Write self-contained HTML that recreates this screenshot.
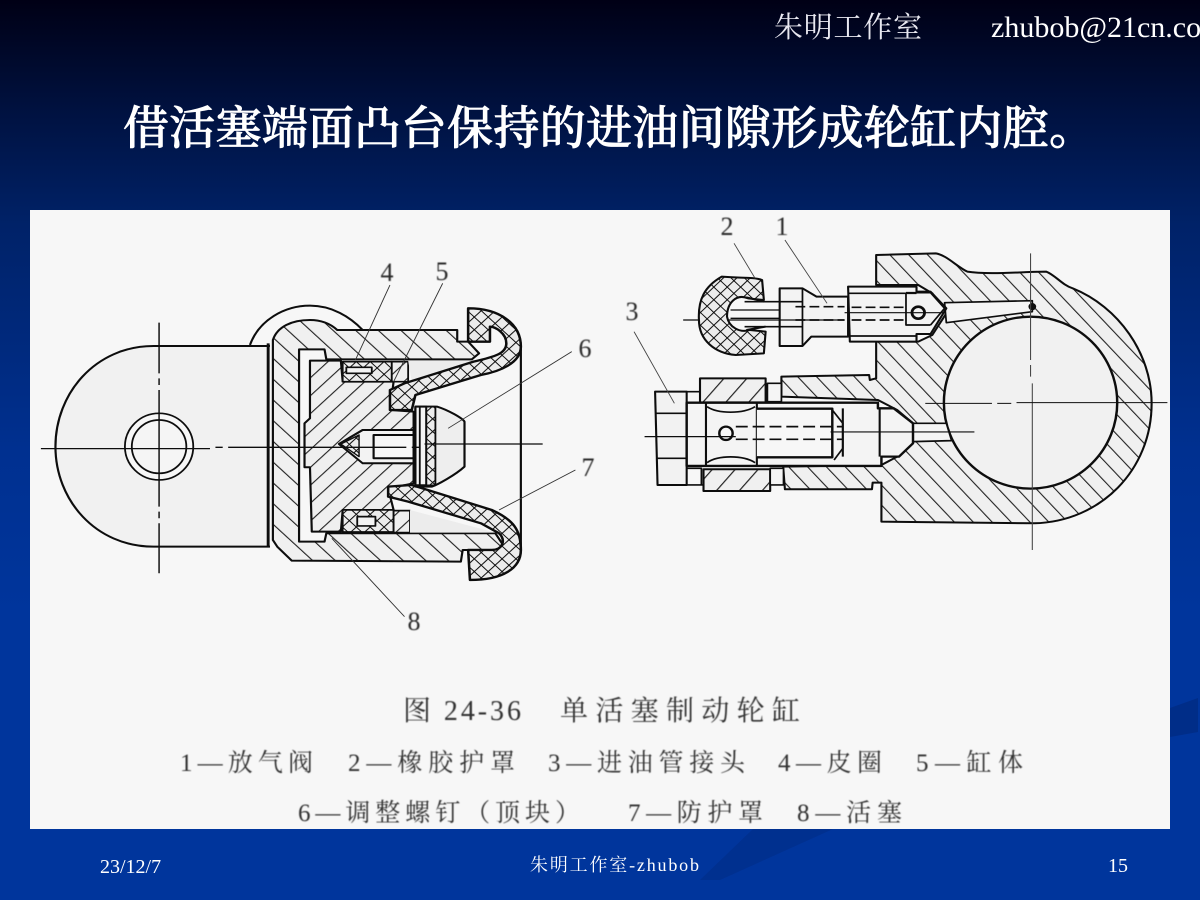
<!DOCTYPE html>
<html lang="zh"><head><meta charset="utf-8"><title>单活塞制动轮缸</title>
<style>
html,body{margin:0;padding:0;background:#039}
body{width:1200px;height:900px;overflow:hidden;position:relative}
svg{position:absolute;left:0;top:0;display:block}
</style></head><body>
<svg width="1200" height="900" viewBox="0 0 1200 900" xmlns="http://www.w3.org/2000/svg">
<defs>
<linearGradient id="bg" x1="0" y1="0" x2="0" y2="1">
<stop offset="0" stop-color="#000015"/><stop offset=".12" stop-color="#00113f"/><stop offset=".25" stop-color="#002268"/><stop offset=".5" stop-color="#003090"/><stop offset=".68" stop-color="#00359c"/><stop offset="1" stop-color="#00359c"/>
</linearGradient>
<pattern id="hb" width="44" height="44" patternUnits="userSpaceOnUse" patternTransform="rotate(-45)"><rect width="44" height="44" fill="#f0f0f0"/><rect x="0" width="3.2" height="44" fill="#222"/></pattern>
<pattern id="hf" width="38" height="38" patternUnits="userSpaceOnUse" patternTransform="rotate(45)"><rect width="38" height="38" fill="#efefef"/><rect x="0" width="3.2" height="38" fill="#222"/></pattern>
<pattern id="hr" width="40" height="40" patternUnits="userSpaceOnUse" patternTransform="rotate(-42)"><rect width="40" height="40" fill="#f0f0f0"/><rect x="0" width="3.2" height="40" fill="#222"/></pattern>
<pattern id="hn" width="50" height="50" patternUnits="userSpaceOnUse" patternTransform="rotate(40)"><rect width="50" height="50" fill="#f0f0f0"/><rect x="0" width="3.5" height="50" fill="#222"/></pattern>
<pattern id="xh" width="27" height="27" patternUnits="userSpaceOnUse" patternTransform="rotate(45)"><rect width="27" height="27" fill="#ececec"/><path d="M0 0H27M0 0V27" stroke="#111" stroke-width="6"/></pattern>
<filter id="soft" x="-5%" y="-5%" width="110%" height="110%"><feGaussianBlur stdDeviation=".45"/></filter>
</defs>
<rect width="1200" height="900" fill="url(#bg)"/>
<polygon points="753,829 833,829 720,880 700,880" fill="#00308f"/>
<polygon points="1170,708 1198,698 1198,732 1170,737" fill="#002d88"/>
<rect x="30" y="210" width="1140" height="619" fill="#f7f7f7"/>

<!-- LEFT -->
<g transform="translate(30,240) scale(.3636,.3333)" fill="none" stroke="#111" stroke-width="5" stroke-linejoin="round" filter="url(#soft)">
<path d="M660,318 L340,318 C180,318 70,460 70,620 C70,780 180,920 340,920 L660,920" fill="#f1f1f1" stroke-width="6"/>
<ellipse cx="355" cy="620" rx="94" ry="100" fill="#f7f7f7"/><ellipse cx="355" cy="620" rx="75" ry="80" fill="#f5f5f5"/>
<path d="M605,315 C630,240 700,197 770,197 C830,197 880,230 915,270" stroke-width="6"/>
<path d="M655,310 V920" stroke-width="8"/>
<path d="M668,300 C680,260 720,240 770,240 C800,240 825,250 845,270 L1175,270 L1175,305 L1205,305 L1235,340 L1215,358 L815,358 L810,328 L740,328 L740,905 L810,905 L815,880 L1280,880 L1310,930 L1190,930 L1185,965 L720,962 L680,920 L668,900 Z" fill="url(#hb)" stroke-width="6"/>
<path d="M770,362 L855,362 L860,425 L1000,425 L990,510 L1055,515 L1055,570 L915,570 L850,612 L915,668 L1055,670 L1055,730 L985,745 L1000,810 L860,810 L855,875 L775,875 L770,682 L755,682 L755,550 L770,535 Z" fill="url(#hf)" stroke-width="6"/>
<rect x="860" y="365" width="135" height="60" fill="url(#xh)"/>
<rect x="870" y="382" width="70" height="18" fill="#f3f3f3"/>
<rect x="860" y="810" width="140" height="66" fill="url(#xh)"/>
<rect x="900" y="830" width="50" height="28" fill="#f3f3f3"/>
<rect x="995" y="365" width="45" height="60" fill="url(#hf)"/>
<rect x="1000" y="812" width="45" height="66" fill="url(#hf)"/>
<path d="M1040,362 H1215 L1050,425 Z" fill="#ececec" stroke="none"/>
<path d="M1045,810 L1280,878 H1045 Z" fill="#ececec" stroke="none"/>
<path d="M1205,205 C1290,205 1350,250 1350,320 C1350,370 1290,395 1240,405 L1060,465 L1050,510 L990,510 L990,450 L1030,430 L1220,365 C1280,350 1310,340 1310,310 C1310,280 1280,260 1265,260 L1265,305 L1205,305 Z" fill="url(#xh)" stroke-width="7"/>
<path d="M985,740 L1050,735 L1270,810 C1330,840 1350,870 1350,930 C1350,985 1300,1020 1210,1020 L1205,930 L1270,930 C1300,930 1310,900 1290,880 L1240,850 L1040,785 L985,770 Z" fill="url(#xh)" stroke-width="7"/>
<path d="M1350,320 V930" stroke-width="6"/>
<path d="M1060,500 H1120 C1150,510 1190,535 1195,545 V680 C1170,705 1120,735 1105,740 H1060 Z" fill="#eee" stroke-width="6"/>
<rect x="1060" y="500" width="30" height="236" fill="#f4f4f4" stroke-width="6"/>
<rect x="1090" y="500" width="25" height="236" fill="url(#xh)" stroke-width="5"/>
<path d="M1072,500 V736" stroke-width="5"/>
<path d="M915,570 H1055 V670 H915 L850,612 Z" fill="#f3f3f3" stroke-width="6"/>
<rect x="945" y="585" width="110" height="70" fill="#f7f7f7" stroke-width="6"/>
<path d="M855,612 L905,585 V650 Z" fill="url(#xh)" stroke-width="4"/>
<path d="M30,626 H495 M510,622 H530 M545,622 H1035 M1050,622 H1070 M1085,612 H1410" stroke-width="4"/>
<path d="M355,248 V400 M355,415 V435 M355,450 V800 M355,815 V835 M355,850 V1000" stroke-width="4"/>
<path d="M990,135 L895,360 M1135,130 L1000,425 M1490,335 L1150,565 M1500,690 L1290,810 M1030,1130 L830,895" stroke-width="2.6" stroke="#333"/>
</g>

<!-- RIGHT -->
<g transform="translate(620,210) scale(.3509,.3333)" fill="none" stroke="#111" stroke-width="6" stroke-linejoin="round" filter="url(#soft)">
<path d="M730,135 L900,130 C930,135 960,170 990,185 C1050,195 1150,185 1215,185 C1240,195 1260,225 1290,235 C1420,290 1515,430 1515,580 C1515,780 1370,935 1180,940 L745,935 L745,818 L720,818 L718,838 L470,838 L465,770 L745,765 L790,740 L835,700 L835,640 L790,600 L735,570 L460,560 L460,500 L710,495 L712,510 L730,505 L730,395 L850,395 L890,375 L930,310 L890,250 L850,225 L730,225 Z" fill="url(#hr)"/>
<ellipse cx="1170" cy="578" rx="247" ry="258" fill="#f1f1f1" stroke-width="7"/>
<path d="M925,278 L1175,272 L1175,305 L930,338 Z" fill="#f5f5f5" stroke-width="5"/>
<path d="M835,640 L930,640 L945,692 L835,695 Z" fill="#f5f5f5" stroke-width="5"/>
<circle cx="1175" cy="290" r="11" fill="#111" stroke="none"/>
<!-- bleed screw -->
<path d="M650,230 H845 V245 H885 L930,295 L885,372 H845 V395 H655 Z" fill="#f3f3f3"/>
<path d="M650,250 H845 M650,378 H845 M815,248 V345 H885 M815,248 H885 L925,295 L885,345" stroke-width="5"/>
<circle cx="850" cy="308" r="18" fill="#f3f3f3" stroke-width="8"/>
<path d="M650,260 H560 L520,235 H455 V408 H520 L545,380 H650 Z" fill="#f3f3f3"/>
<path d="M520,235 V408 M455,275 H520 M455,350 H520" stroke-width="5"/>
<path d="M355,275 H455 M355,350 H455" stroke-width="5"/>
<path d="M315,300 H455 M315,325 H455" stroke-width="4"/>
<path d="M500,290 H640 M500,330 H640 M660,292 H820 M660,330 H820" stroke-width="5" stroke-dasharray="28 12"/>
<path d="M180,330 H640 M640,308 H925" stroke-width="3.5"/>
<!-- cap -->
<path d="M290,200 C240,230 222,270 225,330 C225,390 270,430 330,435 L410,430 L415,365 L370,360 C340,370 310,350 305,320 C305,280 330,250 365,265 L410,270 L405,210 C380,200 340,205 290,200 Z" fill="url(#xh)" stroke-width="6"/>
<path d="M360,262 L410,275 M360,360 L415,350" stroke-width="6"/>
<!-- inlet fitting -->
<rect x="228" y="505" width="187" height="72" fill="url(#hn)"/>
<rect x="238" y="778" width="190" height="65" fill="url(#hn)"/>
<rect x="420" y="520" width="40" height="55" fill="#f5f5f5" stroke-width="5"/>
<rect x="428" y="775" width="38" height="50" fill="#f5f5f5" stroke-width="5"/>
<path d="M100,545 H190 V825 H107 Z" fill="#f2f2f2"/>
<path d="M100,610 H190 M104,745 H190" stroke-width="5"/>
<path d="M190,545 H228 M190,825 H238 M190,775 H232 V825" stroke-width="5"/>
<path d="M190,578 H735 V595 H780 L835,640 V700 L795,740 H745 V768 H190 Z" fill="#f4f4f4" stroke-width="7"/>
<path d="M245,578 V768 M390,578 V768 M635,595 V740 M740,595 V740" stroke-width="6"/>
<path d="M390,596 H605 V742 H390" fill="#f7f7f7" stroke-width="7"/>
<path d="M248,590 C280,612 350,612 385,590 M248,758 C280,735 350,735 385,758" stroke-width="5"/>
<ellipse cx="302" cy="670" rx="19" ry="20" fill="#f7f7f7" stroke-width="7"/>
<path d="M330,650 H635 M330,688 H635" stroke-width="5" stroke-dasharray="34 14"/>
<path d="M70,680 H330 M600,666 H1010" stroke-width="3.5"/>
<path d="M605,600 L635,640 V715 L610,750" stroke-width="5"/>
<path d="M1170,130 V450 M1170,465 V500 M1175,520 V1020" stroke-width="3" stroke="#444"/>
<path d="M870,580 H1060 M1075,580 H1115 M1130,578 H1560" stroke-width="3"/>
<path d="M325,100 L385,205 M470,90 L590,280 M40,365 L155,580" stroke-width="2.6" stroke="#444"/>
</g>

<g font-family="'Liberation Serif',serif" font-size="26" fill="#2a2a2a" text-anchor="middle" filter="url(#soft)">
<text x="387" y="281">4</text><text x="442" y="280">5</text><text x="585" y="357">6</text><text x="588" y="476">7</text><text x="414" y="630">8</text>
<text x="727" y="235">2</text><text x="782" y="235">1</text><text x="632" y="320">3</text>
</g>

<g font-family="'Liberation Serif','Noto Serif CJK SC',serif" fill="#333" filter="url(#soft)">
<text x="403" y="720" font-size="28" textLength="118" lengthAdjust="spacing">图 24-36</text>
<text x="560" y="720" font-size="28" textLength="240" lengthAdjust="spacing">单活塞制动轮缸</text>
<g font-size="25">
<text x="180" y="771" textLength="133">1—放气阀</text>
<text x="348" y="771" textLength="167">2—橡胶护罩</text>
<text x="548" y="771" textLength="197">3—进油管接头</text>
<text x="778" y="771" textLength="104">4—皮圈</text>
<text x="916" y="771" textLength="107">5—缸体</text>
<text x="298" y="821" textLength="282">6—调整螺钉（顶块）</text>
<text x="628" y="821" textLength="135">7—防护罩</text>
<text x="797" y="821" textLength="105">8—活塞</text>
</g></g>

<g fill="#fff">
<text x="774" y="37" font-family="'Noto Serif CJK SC',serif" font-size="29" textLength="148" fill="#e8e8f0">朱明工作室</text>
<text x="991" y="37" font-family="'Liberation Serif',serif" font-size="30">zhubob@21cn.com</text>
<text x="123" y="144" font-family="'Noto Serif CJK SC',serif" font-size="46" font-weight="500" textLength="972" stroke="#fff" stroke-width=".8">借活塞端面凸台保持的进油间隙形成轮缸内腔。</text>
<text x="100" y="873" font-family="'Liberation Serif',serif" font-size="20">23/12/7</text>
<text x="530" y="871" font-family="'Liberation Serif','Noto Serif CJK SC',serif" font-size="18" textLength="169">朱明工作室-zhubob</text>
<text x="1108" y="872" font-family="'Liberation Serif',serif" font-size="20">15</text>
</g>
</svg>
</body></html>
